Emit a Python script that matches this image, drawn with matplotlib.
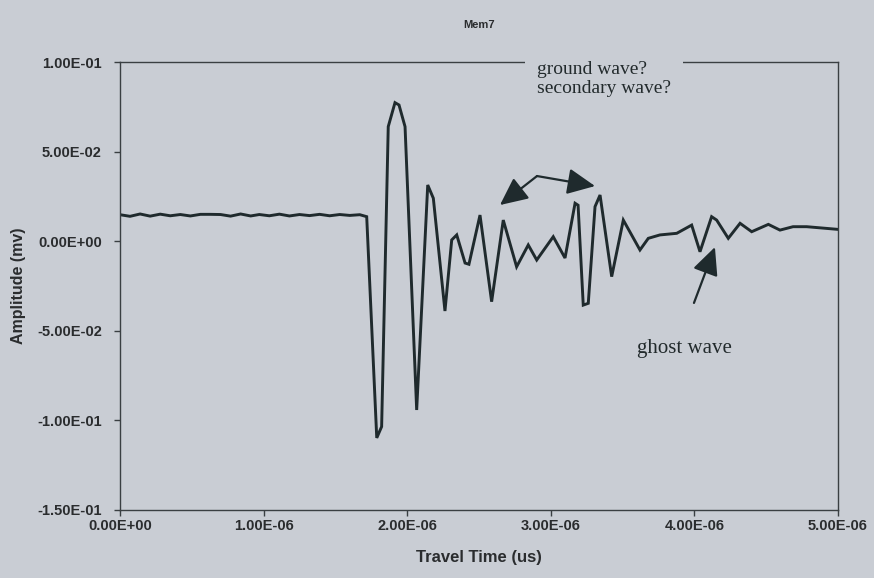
import numpy as np
import matplotlib
matplotlib.use("Agg")
import matplotlib.pyplot as plt
from matplotlib.font_manager import FontProperties
from matplotlib.ticker import FuncFormatter, MultipleLocator

# trace vertices: time in microseconds, amplitude in mv
t_us = [0.00, 0.07, 0.14, 0.21, 0.28, 0.35, 0.42, 0.49, 0.56, 0.63,
        0.70, 0.77, 0.84, 0.91, 0.97, 1.04, 1.11, 1.18, 1.25, 1.32,
        1.39, 1.46, 1.53, 1.60, 1.67, 1.718,
        1.788, 1.822, 1.868, 1.915, 1.943, 1.985, 2.066, 2.143, 2.182, 2.263,
        2.310, 2.345, 2.403, 2.430, 2.507, 2.588, 2.669, 2.762, 2.843, 2.902,
        3.017, 3.099, 3.169, 3.190, 3.226, 3.261, 3.308, 3.343, 3.424, 3.505,
        3.621, 3.679, 3.760, 3.877, 3.981, 4.039, 4.120, 4.155, 4.236, 4.318,
        4.399, 4.515, 4.596, 4.687, 4.782, 5.000]
amp = [0.0147, 0.0138, 0.0151, 0.0139, 0.0150, 0.0141, 0.0148, 0.0140, 0.0149, 0.0149,
       0.0148, 0.0139, 0.0151, 0.0140, 0.0148, 0.0141, 0.0150, 0.0140, 0.0148, 0.0142,
       0.0149, 0.0141, 0.0148, 0.0143, 0.0147, 0.0136,
       -0.1100, -0.1037, 0.0639, 0.0773, 0.0760, 0.0639, -0.0944, 0.0313, 0.0239, -0.0391,
       0.0006, 0.0034, -0.0123, -0.0130, 0.0145, -0.0339, 0.0117, -0.0144, -0.0022, -0.0106,
       0.0024, -0.0095, 0.0211, 0.0200, -0.0358, -0.0348, 0.0192, 0.0257, -0.0199, 0.0117,
       -0.0050, 0.0015, 0.0034, 0.0043, 0.0089, -0.0060, 0.0136, 0.0117, 0.0015, 0.0099,
       0.0052, 0.0093, 0.0061, 0.0080, 0.0080, 0.0065]

bg = "#c9cdd4"
ink = "#1f2a2d"

fig = plt.figure(figsize=(8.74, 5.78), dpi=100, facecolor=bg)
ax = fig.add_axes([0.1373, 0.1185, 0.8215, 0.7742], facecolor=bg)

ax.plot(np.array(t_us) * 1e-6, amp, color=ink, lw=2.1, solid_joinstyle="miter")

ax.set_xlim(0, 5e-6)
ax.set_ylim(-0.15, 0.10)
ax.xaxis.set_major_locator(MultipleLocator(1e-6))
ax.yaxis.set_major_locator(MultipleLocator(0.05))
sci = FuncFormatter(lambda v, p: "{:.2E}".format(0.0 if abs(v) < 1e-12 else v))
ax.xaxis.set_major_formatter(sci)
ax.yaxis.set_major_formatter(sci)

tick_font = FontProperties(family="Liberation Sans", weight="bold", size=10.5)
for tl in ax.get_xticklabels() + ax.get_yticklabels():
    tl.set_fontproperties(tick_font)
    tl.set_color("#2a2c2e")
ax.tick_params(direction="out", length=4, width=1, color="#3a3f42")
ax.tick_params(axis="y", pad=9)
ax.tick_params(axis="x", pad=3)

for s in ax.spines.values():
    s.set_color("#3a3f42")
    s.set_linewidth(1.0)

lab = dict(family="Liberation Sans", weight="bold", color="#2a2c2e")
ax.set_title("Mem7", fontsize=8, pad=24.5, **lab)
ax.set_xlabel("Travel Time (us)", fontsize=12, labelpad=12, **lab)
ax.set_ylabel("Amplitude (mv)", fontsize=11.5, labelpad=8, **lab)

serif = dict(family="Liberation Serif", fontsize=14, color="#222a2c")
ax.text(2.904e-6, 0.1005, "ground wave?\nsecondary wave?", va="top", ha="left",
        linespacing=1.12, zorder=5,
        bbox=dict(boxstyle="square,pad=0.6", fc=bg, ec="none"), **serif)
ax.text(3.60e-6, -0.0598, "ghost wave", va="center", ha="left",
        family="Liberation Serif", fontsize=15, color="#222a2c")

arrow = dict(arrowstyle="-|>,head_length=0.85,head_width=0.4", mutation_scale=20,
             lw=1.6, color=ink, shrinkA=0, shrinkB=0)
ax.annotate("", xy=(2.646e-6, 0.0201), xytext=(2.904e-6, 0.0363), arrowprops=arrow)
ax.annotate("", xy=(3.308e-6, 0.0307), xytext=(2.904e-6, 0.0363), arrowprops=arrow)
ax.annotate("", xy=(4.143e-6, -0.0034), xytext=(3.997e-6, -0.0346), arrowprops=arrow)

fig.savefig("out.png", dpi=100, facecolor=bg)
